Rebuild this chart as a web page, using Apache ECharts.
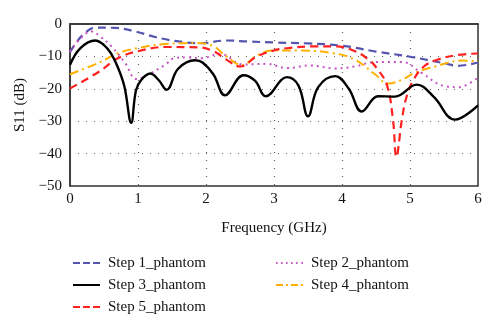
<!DOCTYPE html>
<html><head><meta charset="utf-8">
<script src="https://cdn.jsdelivr.net/npm/echarts@6/dist/echarts.min.js"></script>
<style>html,body{margin:0;padding:0;background:#fff}#c{width:500px;height:333px}</style>
</head><body><div id="c"></div>
<script>
var seriesNames = ['Step 1_phantom','Step 2_phantom','Step 3_phantom','Step 4_phantom','Step 5_phantom'];
var xTicks = [0,1,2,3,4,5,6];
var yTicks = [-50,-40,-30,-20,-10,0];

var step1 = [[0,-8.7],[0.1,-5.5],[0.22,-2.8],[0.37,-1.1],[0.66,-1.2],[0.96,-2.3],[1.25,-4.0],[1.54,-5.2],[1.89,-5.9],[2.0,-5.8],[2.3,-5.1],[2.62,-5.4],[3.0,-5.7],[3.5,-6.0],[4.0,-6.7],[4.5,-8.5],[5.0,-10.1],[5.5,-12.1],[5.7,-12.9],[6.0,-11.9]];
var step2 = [[0,-8.6],[0.15,-4.5],[0.32,-2.3],[0.45,-4.0],[0.61,-6.9],[0.81,-12.0],[0.98,-17.0],[1.15,-15.6],[1.4,-12.6],[1.54,-10.5],[1.74,-10.3],[1.94,-10.6],[2.2,-9.2],[2.55,-12.5],[2.89,-12.3],[3.19,-13.6],[3.53,-12.8],[3.9,-13.7],[4.19,-13.1],[4.49,-11.7],[4.88,-11.7],[5.17,-15.1],[5.51,-19.2],[5.71,-19.5],[6.0,-16.5]];
var step3 = [[0,-12.6],[0.15,-7.5],[0.37,-5.1],[0.5,-6.5],[0.6,-9.0],[0.7,-13.2],[0.8,-19.3],[0.9,-30.5],[0.97,-20.5],[1.05,-17.2],[1.18,-15.3],[1.3,-17.2],[1.42,-20.3],[1.59,-13.8],[1.84,-11.2],[1.95,-11.9],[2.11,-15.6],[2.28,-22.0],[2.55,-15.8],[2.72,-17.5],[2.88,-22.3],[3.19,-16.4],[3.36,-19.0],[3.5,-28.5],[3.65,-19.5],[3.9,-16.1],[4.1,-20.0],[4.29,-27.0],[4.53,-22.3],[4.78,-22.4],[5.1,-18.7],[5.35,-22.5],[5.66,-29.5],[6.0,-25.1]];
var step4 = [[0,-15.5],[0.42,-12.0],[0.71,-9.0],[1.0,-7.4],[1.4,-6.2],[1.88,-5.9],[2.11,-6.9],[2.3,-10.0],[2.53,-12.7],[2.75,-9.7],[2.99,-8.2],[3.38,-8.2],[3.87,-9.0],[4.19,-11.0],[4.49,-15.6],[4.68,-18.4],[4.88,-17.2],[5.07,-15.1],[5.37,-13.1],[5.76,-11.3],[6.0,-11.5]];
var step5 = [[0,-19.9],[0.42,-14.8],[0.71,-10.5],[1.0,-8.4],[1.4,-7.1],[1.88,-7.2],[2.11,-8.4],[2.3,-11.0],[2.5,-13.1],[2.75,-10.0],[2.99,-8.2],[3.22,-7.4],[3.6,-6.9],[3.9,-6.9],[4.19,-8.4],[4.39,-11.0],[4.51,-13.6],[4.66,-18.8],[4.75,-29.6],[4.8,-41.0],[4.88,-29.6],[4.95,-22.4],[5.05,-17.3],[5.2,-13.2],[5.39,-11.1],[5.69,-9.6],[6.0,-9.1]];

var font = '"Liberation Serif", "DejaVu Serif", serif';
var chart = echarts.init(document.getElementById('c'));
function fmtY(v){ return v < 0 ? '\u2212' + Math.abs(v) : String(v); }
var ICON_DASH = 'path://M0,0h7v2h-7z M10,0h7v2h-7z M20,0h7v2h-7z';
var ICON_DOT = 'path://M0,0h1.6v2h-1.6z M5,0h1.6v2h-1.6z M10,0h1.6v2h-1.6z M15,0h1.6v2h-1.6z M20,0h1.6v2h-1.6z M25.4,0h1.6v2h-1.6z';
var ICON_SOLID = 'path://M0,0h27v2h-27z';
var ICON_DASHDOT = 'path://M0,0h7v2h-7z M10,0h2v2h-2z M15,0h7v2h-7z M25,0h2v2h-2z';
var styles = [
  {data: step1, color:'#5555b0', type:[8,5], width:2.2, icon:ICON_DASH},
  {data: step2, color:'#c455c4', type:[2,4], width:2, icon:ICON_DOT},
  {data: step3, color:'#000000', type:'solid', width:2.4, icon:ICON_SOLID},
  {data: step4, color:'#ffb000', type:[9,4,2,4], width:2, icon:ICON_DASHDOT},
  {data: step5, color:'#ff2020', type:[8,5], width:2.2, icon:ICON_DASH}
];
var series = styles.map(function(s,i){
  return {name: seriesNames[i], type:'line', data:s.data, smooth:0.4, symbol:'none', showSymbol:false,
    itemStyle:{color:s.color}, lineStyle:{color:s.color, type:s.type, width:s.width}, z: i===2?5:3};
});
function makeLegend(left, idx){
  return {orient:'vertical', left:left, top:250, itemWidth:27, itemHeight:2.4, itemGap:6,
    data:idx.map(function(i){ return {name:seriesNames[i], icon:styles[i].icon, itemStyle:{color:styles[i].color}}; }),
    textStyle:{fontFamily:font, fontSize:15, color:'#111', padding:[0,0,0,3], lineHeight:16}};
}
chart.setOption({
  animation:false,
  grid:{left:70, right:22, top:24, bottom:147, show:true, borderColor:'#333', borderWidth:1.5},
  xAxis:{type:'value', min:xTicks[0], max:xTicks[xTicks.length-1], interval:1,
    name:'Frequency (GHz)', nameLocation:'middle', nameGap:35,
    nameTextStyle:{fontFamily:font, fontSize:15, color:'#111'},
    axisLine:{show:true, lineStyle:{color:'#333', width:1.5}}, axisTick:{show:false},
    axisLabel:{fontFamily:font, fontSize:15, color:'#111', margin:6},
    splitLine:{show:true, lineStyle:{color:'#666', type:[1,7], width:1.2}}},
  yAxis:{type:'value', min:yTicks[0], max:yTicks[yTicks.length-1], interval:10,
    name:'S11 (dB)', nameLocation:'middle', nameGap:31,
    nameTextStyle:{fontFamily:font, fontSize:15, color:'#111'},
    axisLine:{show:true, lineStyle:{color:'#333', width:1.5}}, axisTick:{show:false},
    axisLabel:{fontFamily:font, fontSize:15, color:'#111', margin:8, formatter:fmtY},
    splitLine:{show:true, lineStyle:{color:'#666', type:[1,7], width:1.2}}},
  legend:[
    makeLegend(68, [0,2,4]),
    makeLegend(271, [1,3])
  ],
  series:series
});
</script></body></html>
